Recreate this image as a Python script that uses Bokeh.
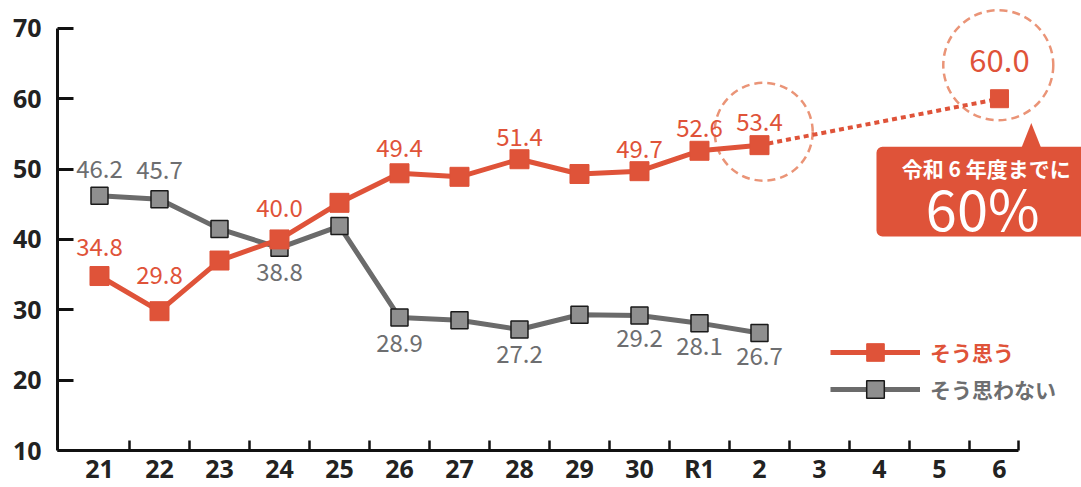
from bokeh.plotting import figure
from bokeh.models import (Range1d, FixedTicker, ColumnDataSource, Legend, LegendItem,
                          BoxAnnotation)
from bokeh.core.properties import value
from bokeh.embed import file_html
from bokeh.resources import INLINE

# ---- data ----
categories = ["21", "22", "23", "24", "25", "26", "27", "28", "29", "30",
              "R1", "2", "3", "4", "5", "6"]
sou_omou = [34.8, 29.8, 37.0, 40.0, 45.2, 49.4, 48.9, 51.4, 49.3, 49.7, 52.6, 53.4]
sou_omowanai = [46.2, 45.7, 41.5, 38.8, 41.9, 28.9, 28.5, 27.2, 29.3, 29.2, 28.1, 26.7]
target_category = "6"
target_value = 60.0
labelled = [True, True, False, True, False, True, False, True, False, True, True, True]

# ---- layout helpers (screen offsets of value labels) ----
red_label_dy = [-29, -36, 0, -31, 0, -25, 0, -22, 0, -22, -23, -23]
grey_label_dy = [-27, -29, 0, 24, 0, 25, 0, 25, 0, 23, 23, 23]

RED = "#df5339"
GREY_LINE = "#6b6b6b"
GREY_FILL = "#8f8f8f"
GREY_TEXT = "#6d6e70"
CIRCLE = "#ea9477"
FONT = "Noto Sans CJK JP"

xs = list(range(len(sou_omou)))
x_target = categories.index(target_category)

p = figure(width=1081, height=487, output_backend="svg", toolbar_location=None,
           x_range=Range1d(-0.7, 16.367), y_range=Range1d(10, 73.96),
           min_border_left=57, min_border_right=0, min_border_top=0, min_border_bottom=35)
p.outline_line_color = None
p.xgrid.visible = False
p.ygrid.visible = False
p.background_fill_color = "white"
p.border_fill_color = "white"

# axes
xa = p.xaxis[0]
xa.ticker = FixedTicker(ticks=list(range(len(categories))),
                        minor_ticks=[i + 0.5 for i in range(len(categories) - 1)] + [15.317])
xa.major_label_overrides = {i: c for i, c in enumerate(categories)}
xa.bounds = (-0.7, 15.317)
xa.major_tick_line_color = None
xa.major_tick_in = 0
xa.major_tick_out = 0
xa.minor_tick_in = 10
xa.minor_tick_out = 0
xa.minor_tick_line_width = 2.5
xa.minor_tick_line_color = "#111111"
xa.axis_line_width = 3
xa.axis_line_color = "#111111"
xa.major_label_text_font = "Noto Sans"
xa.major_label_text_font_size = "25px"
xa.major_label_text_font_style = "bold"
xa.major_label_text_color = "#222222"
xa.major_label_standoff = 0

ya = p.yaxis[0]
ya.ticker = FixedTicker(ticks=[10, 20, 30, 40, 50, 60, 70])
ya.bounds = (10, 70)
ya.major_tick_in = 16
ya.major_tick_out = 0
ya.major_tick_line_width = 3
ya.major_tick_line_color = "#111111"
ya.minor_tick_line_color = None
ya.axis_line_width = 3
ya.axis_line_color = "#111111"
ya.major_label_text_font = "Noto Sans"
ya.major_label_text_font_size = "25px"
ya.major_label_text_font_style = "bold"
ya.major_label_text_color = "#222222"
ya.major_label_standoff = 16

# dashed highlight circles
p.scatter(x=[xs[-1] + 0.07], y=[sou_omou[-1] + 1.9], size=98, marker="circle",
          fill_color=None, line_color=CIRCLE, line_width=2.5, line_dash="8 5")
p.scatter(x=[x_target - 0.02], y=[target_value + 4.76], size=110, marker="circle",
          fill_color=None, line_color=CIRCLE, line_width=2.5, line_dash="8 5")

# projection (dotted)
p.line(x=[xs[-1], x_target], y=[sou_omou[-1], target_value], line_color=RED,
       line_width=4, line_dash="5 4")
p.scatter(x=[x_target], y=[target_value], marker="square", size=18,
          fill_color=RED, line_color=RED)

# series
grey_line = p.line(xs, sou_omowanai, line_color=GREY_LINE, line_width=5)
grey_pts = p.scatter(xs, sou_omowanai, marker="square", size=17,
                     fill_color=GREY_FILL, line_color="#1a1a1a", line_width=1.5)
red_line = p.line(xs, sou_omou, line_color=RED, line_width=5)
red_pts = p.scatter(xs, sou_omou, marker="square", size=19,
                    fill_color=RED, line_color=RED)

# value labels
def label_source(vals, dys):
    d = dict(x=[], y=[], t=[], dy=[])
    for i, v in enumerate(vals):
        if labelled[i]:
            d["x"].append(i)
            d["y"].append(v)
            d["t"].append(f"{v:.1f}")
            d["dy"].append(dys[i])
    return ColumnDataSource(d)

p.text(x="x", y="y", text="t", y_offset="dy", source=label_source(sou_omou, red_label_dy),
       text_align="center", text_baseline="middle", text_color=RED,
       text_font=value(FONT), text_font_size="24px")
p.text(x="x", y="y", text="t", y_offset="dy", source=label_source(sou_omowanai, grey_label_dy),
       text_align="center", text_baseline="middle", text_color=GREY_TEXT,
       text_font=value(FONT), text_font_size="24px")
p.text(x=[x_target], y=[target_value], text=[f"{target_value:.1f}"], y_offset=-38,
       text_align="center", text_baseline="middle", text_color=RED,
       text_font=value(FONT), text_font_size="31px")

# callout
p.add_layout(BoxAnnotation(left=12.95, right=17, top=53.16, bottom=40.43, level="underlay",
                           fill_color=RED, fill_alpha=1, line_color=None, border_radius=6))
p.patch(x=[15.53, 15.36, 15.70], y=[56.56, 52.9, 52.9], fill_color=RED, line_color=None,
        level="underlay")
p.text(x=[14.78], y=[50.19], text=["令和 6 年度までに"], text_align="center",
       text_baseline="middle", text_color="white", text_font=value(FONT),
       text_font_size="21px", text_font_style="bold")
p.text(x=[14.72], y=[44.67], text=["60%"], text_align="center",
       text_baseline="middle", text_color="white", text_font=value(FONT),
       text_font_size="56px")

# legends
for items, loc, col in [([LegendItem(label="そう思う", renderers=[red_line, red_pts])], (773, 76), RED),
                        ([LegendItem(label="そう思わない", renderers=[grey_line, grey_pts])], (773, 39), GREY_TEXT)]:
    lg = Legend(items=items, location=loc, glyph_width=90, glyph_height=44,
                label_standoff=10, padding=0, margin=0, spacing=0,
                border_line_color=None, background_fill_alpha=0,
                label_text_font=FONT, label_text_font_size="21px",
                label_text_font_style="bold", label_text_color=col,
                label_height=44)
    p.add_layout(lg)

open("out.html", "w").write(file_html(p, INLINE))
